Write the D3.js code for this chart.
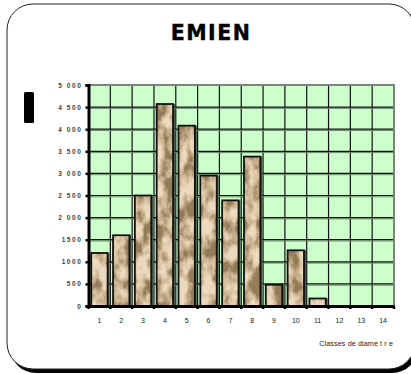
<!DOCTYPE html>
<html>
<head>
<meta charset="utf-8">
<script src="https://cdnjs.cloudflare.com/ajax/libs/d3/7.8.5/d3.min.js"></script>
<style>
  html, body { margin: 0; padding: 0; background: #fff; }
  svg { display: block; }
</style>
</head>
<body>
<div id="chart"></div>
<script>

var classes = ["1","2","3","4","5","6","7","8","9","10","11","12","13","14"];
var counts  = [1200, 1600, 2500, 4570, 4080, 2950, 2390, 3380, 480, 1260, 170, 0, 0, 0];
var yTicks  = [0, 500, 1000, 1500, 2000, 2500, 3000, 3500, 4000, 4500, 5000];
var yLabels = ["0","500","1000","1500","2 000","2 500","3 000","3 500","4 000","4 500","5 000"];
var title   = "EMIEN";
var xTitle  = "Classes de diamè t r e";

var width  = 411;
var height = 374;
var plot   = {left: 88.5, right: 394, top: 85, bottom: 306};

var svg = d3.select("#chart")
  .append("svg")
    .attr("width", width)
    .attr("height", height);

//......................... Stone texture for the bars ..........................
var defs = svg.append("defs");
var filter = defs.append("filter")
  .attr("id", "stone")
  .attr("x", 0).attr("y", 0).attr("width", 1).attr("height", 1);
filter.append("feTurbulence")
  .attr("type", "fractalNoise")
  .attr("baseFrequency", "0.08 0.05")
  .attr("numOctaves", 4)
  .attr("seed", 11)
  .attr("result", "noise");
filter.append("feColorMatrix")
  .attr("type", "matrix")
  .attr("values", "2.8 0 0 0 -0.9  2.8 0 0 0 -0.9  2.8 0 0 0 -0.9  0 0 0 0 1");
var ct = filter.append("feComponentTransfer");
ct.append("feFuncR").attr("type", "table").attr("tableValues", "0.30 0.46 0.62 0.74 0.84");
ct.append("feFuncG").attr("type", "table").attr("tableValues", "0.20 0.33 0.47 0.59 0.70");
ct.append("feFuncB").attr("type", "table").attr("tableValues", "0.10 0.19 0.30 0.41 0.52");
filter.append("feComposite")
  .attr("in2", "SourceGraphic")
  .attr("operator", "in");
//-------------------------------------------------------------------------------

// frame with shadow
svg.append("rect")
  .attr("x", 10).attr("y", 7)
  .attr("width", 408).attr("height", 366)
  .attr("rx", 26)
  .attr("fill", "#000");
svg.append("rect")
  .attr("x", 7).attr("y", 4)
  .attr("width", 408).attr("height", 365)
  .attr("rx", 26)
  .attr("fill", "#fff")
  .attr("stroke", "#222")
  .attr("stroke-width", 1);

svg.append("text")
  .attr("x", 211)
  .attr("y", 40)
  .attr("text-anchor", "middle")
  .attr("stroke", "#000")
  .attr("stroke-width", 0.4)
  .style("font-family", "'DejaVu Sans', sans-serif")
  .style("font-weight", "bold")
  .style("font-size", "20.5px")
  .style("letter-spacing", "1.5px")
  .text(title);

// leftover y axis title block
svg.append("rect")
  .attr("x", 24).attr("y", 92)
  .attr("width", 10).attr("height", 31)
  .attr("rx", 1.5)
  .attr("fill", "#000");

var x = d3.scaleBand()
  .domain(classes)
  .range([plot.left, plot.right])
  .paddingInner(0.25)
  .paddingOuter(0.125);

var y = d3.scaleLinear()
  .domain([0, 5000])
  .range([plot.bottom, plot.top]);

var step = x.step();
function boundary(c){ return x(c) - step * x.paddingInner() / 2; }

// plot background
svg.append("rect")
  .attr("x", plot.left).attr("y", plot.top)
  .attr("width", plot.right - plot.left)
  .attr("height", plot.bottom - plot.top)
  .attr("fill", "#ccffcc");

// vertical grid
svg.append("g")
  .selectAll("line")
  .data(classes.slice(1))
  .enter()
  .append("line")
  .attr("x1", boundary).attr("x2", boundary)
  .attr("y1", plot.top).attr("y2", plot.bottom)
  .attr("stroke", "#111")
  .attr("stroke-width", 1.2);

// horizontal grid, with soft shadow
var hg = svg.append("g");
hg.selectAll("line.sh")
  .data(yTicks.slice(1, -1))
  .enter()
  .append("line")
  .attr("class", "sh")
  .attr("x1", plot.left).attr("x2", plot.right)
  .attr("y1", function(d){ return y(d) + 1.3; })
  .attr("y2", function(d){ return y(d) + 1.3; })
  .attr("stroke", "#6a8a6a")
  .attr("stroke-width", 1);
hg.selectAll("line.gl")
  .data(yTicks.slice(1, -1))
  .enter()
  .append("line")
  .attr("class", "gl")
  .attr("x1", plot.left).attr("x2", plot.right)
  .attr("y1", function(d){ return y(d); })
  .attr("y2", function(d){ return y(d); })
  .attr("stroke", "#111")
  .attr("stroke-width", 1.2);

// top and right border
svg.append("path")
  .attr("d", "M" + plot.left + "," + plot.top + "H" + plot.right + "V" + plot.bottom)
  .attr("fill", "none")
  .attr("stroke", "#808080")
  .attr("stroke-width", 2);

// bars
var barData = classes.map(function(c, i){ return {c: c, v: counts[i]}; })
  .filter(function(d){ return d.v > 0; });

var bars = svg.append("g");
bars.selectAll("rect.shadow")
  .data(barData)
  .enter()
  .append("rect")
  .attr("class", "shadow")
  .attr("x", function(d){ return x(d.c) + 1; })
  .attr("y", function(d){ return y(d.v) + 1; })
  .attr("width", x.bandwidth())
  .attr("height", function(d){ return plot.bottom - y(d.v); })
  .attr("fill", "none")
  .attr("stroke", "#4a5a4a")
  .attr("stroke-width", 2);
bars.selectAll("rect.fill")
  .data(barData)
  .enter()
  .append("rect")
  .attr("class", "fill")
  .attr("x", function(d){ return x(d.c); })
  .attr("y", function(d){ return y(d.v); })
  .attr("width", x.bandwidth())
  .attr("height", function(d){ return plot.bottom - y(d.v); })
  .attr("fill", "#c8a070")
  .attr("filter", "url(#stone)");
bars.selectAll("rect.edge")
  .data(barData)
  .enter()
  .append("rect")
  .attr("class", "edge")
  .attr("x", function(d){ return x(d.c); })
  .attr("y", function(d){ return y(d.v); })
  .attr("width", x.bandwidth())
  .attr("height", function(d){ return plot.bottom - y(d.v); })
  .attr("fill", "none")
  .attr("stroke", "#111")
  .attr("stroke-width", 1.8);

// y axis
var yAxis = svg.append("g")
  .attr("transform", "translate(" + plot.left + ",0)")
  .call(d3.axisLeft(y)
    .tickValues(yTicks)
    .tickSize(3)
    .tickPadding(3)
    .tickFormat(function(d, i){ return yLabels[i]; }));
yAxis.select(".domain")
  .attr("stroke", "#000")
  .attr("stroke-width", 3);
yAxis.selectAll(".tick line")
  .attr("stroke", "#000")
  .attr("stroke-width", 2.5);
yAxis.selectAll(".tick text")
  .attr("fill", "#444")
  .style("font-family", "'Liberation Sans', Arial, sans-serif")
  .style("font-size", "6.5px")
  .style("font-weight", "bold")
  .style("letter-spacing", "1.6px");

// x axis
var xAxis = svg.append("g")
  .attr("transform", "translate(0," + plot.bottom + ")")
  .call(d3.axisBottom(x).tickSize(0).tickPadding(12));
xAxis.select(".domain")
  .attr("stroke", "#000")
  .attr("stroke-width", 3);
xAxis.selectAll(".tick text")
  .attr("fill", "#222")
  .style("font-family", "'Liberation Sans', Arial, sans-serif")
  .style("font-size", "7px");
svg.append("g")
  .selectAll("line")
  .data(classes.concat(["end"]))
  .enter()
  .append("line")
  .attr("x1", function(d, i){ return plot.left + i * step; })
  .attr("x2", function(d, i){ return plot.left + i * step; })
  .attr("y1", plot.bottom)
  .attr("y2", plot.bottom + 3)
  .attr("stroke", "#000")
  .attr("stroke-width", 2.5);

svg.append("text")
  .attr("x", 393)
  .attr("y", 346)
  .attr("text-anchor", "end")
  .attr("fill", "#222")
  .style("font-family", "'Liberation Sans', Arial, sans-serif")
  .style("font-size", "7.2px")
  .style("letter-spacing", "0.1px")
  .text(xTitle);

</script>
</body>
</html>
